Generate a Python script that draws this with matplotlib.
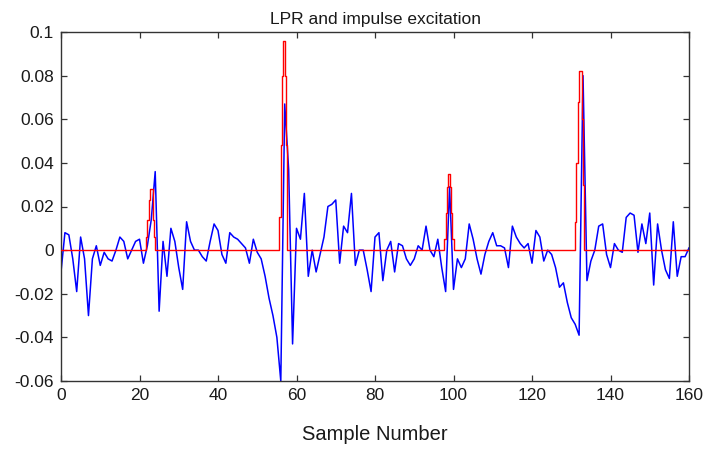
import numpy as np
import matplotlib
matplotlib.use("Agg")
import matplotlib.pyplot as plt

plt.rcParams['font.family'] = ['Liberation Sans', 'DejaVu Sans']

# LP residual (blue), one value per sample 0..160
lpr = [
    -0.010, 0.008, 0.007, -0.004, -0.019, 0.006, -0.004, -0.030, -0.004, 0.002,
    -0.007, -0.001, -0.004, -0.005, 0.000, 0.006, 0.004, -0.004, 0.000, 0.004,
    0.005, -0.006, 0.002, 0.014, 0.036, -0.028, 0.004, -0.012, 0.010, 0.004,
    -0.008, -0.018, 0.013, 0.004, 0.000, 0.000, -0.003, -0.005, 0.004, 0.012,
    0.009, -0.002, -0.006, 0.008, 0.006, 0.005, 0.003, 0.001, -0.006, 0.005,
    -0.001, -0.004, -0.012, -0.022, -0.030, -0.040, -0.060, 0.067, 0.037, -0.043,
    0.010, 0.005, 0.026, -0.012, 0.000, -0.010, -0.002, 0.006, 0.020, 0.021,
    0.023, -0.006, 0.011, 0.008, 0.026, -0.007, 0.000, 0.000, -0.009, -0.019,
    0.006, 0.008, -0.014, 0.000, 0.004, -0.010, 0.003, 0.002, -0.004, -0.007,
    -0.004, 0.002, 0.000, 0.011, 0.000, -0.003, 0.005, -0.008, -0.019, 0.029,
    -0.018, -0.004, -0.008, -0.004, 0.012, 0.005, -0.004, -0.011, -0.002, 0.004,
    0.008, 0.002, 0.002, 0.001, -0.008, 0.011, 0.006, 0.003, 0.001, 0.003,
    -0.006, 0.009, 0.006, -0.005, 0.000, -0.002, -0.008, -0.017, -0.015, -0.024,
    -0.031, -0.034, -0.039, 0.080, -0.014, -0.005, 0.000, 0.011, 0.012, -0.002,
    -0.008, 0.003, 0.000, -0.001, 0.015, 0.017, 0.016, -0.001, 0.012, 0.003,
    0.017, -0.016, 0.012, 0.000, -0.009, -0.013, 0.013, -0.012, -0.003, -0.003,
    0.001,
]

# impulse excitation (red), defined on a 1/3-sample grid
red_substeps = 3
pulse_starts = [65, 167, 293, 393]          # in 1/3-sample units
pulse_levels = [
    [0.006, 0.014, 0.023, 0.028, 0.028, 0.014, 0.006],
    [0.015, 0.048, 0.080, 0.096, 0.080, 0.048],
    [0.005, 0.017, 0.029, 0.035, 0.029, 0.017, 0.005],
    [0.013, 0.040, 0.068, 0.082, 0.082, 0.060, 0.030],
]

xticks = [0, 20, 40, 60, 80, 100, 120, 140, 160]
yticks = [-0.06, -0.04, -0.02, 0, 0.02, 0.04, 0.06, 0.08, 0.1]
ytick_labels = ['-0.06', '-0.04', '-0.02', '0', '0.02', '0.04', '0.06', '0.08', '0.1']

n = np.arange(len(lpr))
red_t = np.arange(160 * red_substeps + 1) / red_substeps
red = np.zeros_like(red_t)
for s, lv in zip(pulse_starts, pulse_levels):
    red[s:s + len(lv)] = lv

fig = plt.figure(figsize=(7.05, 4.5), dpi=100)
ax = fig.add_axes([61 / 705, 1 - 381 / 450, 628 / 705, 349 / 450])

ax.plot(n, lpr, color='#0000ff', lw=1.1, zorder=2)
ax.plot(red_t, red, color='#ff0000', lw=1.0, drawstyle='steps-post', zorder=3)

ax.set_xlim(0, 160)
ax.set_ylim(-0.06, 0.1)
ax.set_xticks(xticks)
ax.set_xticklabels([str(v) for v in xticks])
ax.set_yticks(yticks)
ax.set_yticklabels(ytick_labels)

ax.tick_params(direction='in', length=4, width=0.9, top=True, right=True,
               labelsize=12.5, colors='#333333', labelcolor='#1a1a1a', pad=5)
for sp in ax.spines.values():
    sp.set_color('#333333')
    sp.set_linewidth(1.0)

ax.set_title('LPR and impulse excitation', fontsize=12.5, color='#1a1a1a', pad=6)
ax.set_xlabel('Sample Number', fontsize=14.5, color='#1a1a1a', labelpad=16)

fig.savefig('out.png', dpi=100)
